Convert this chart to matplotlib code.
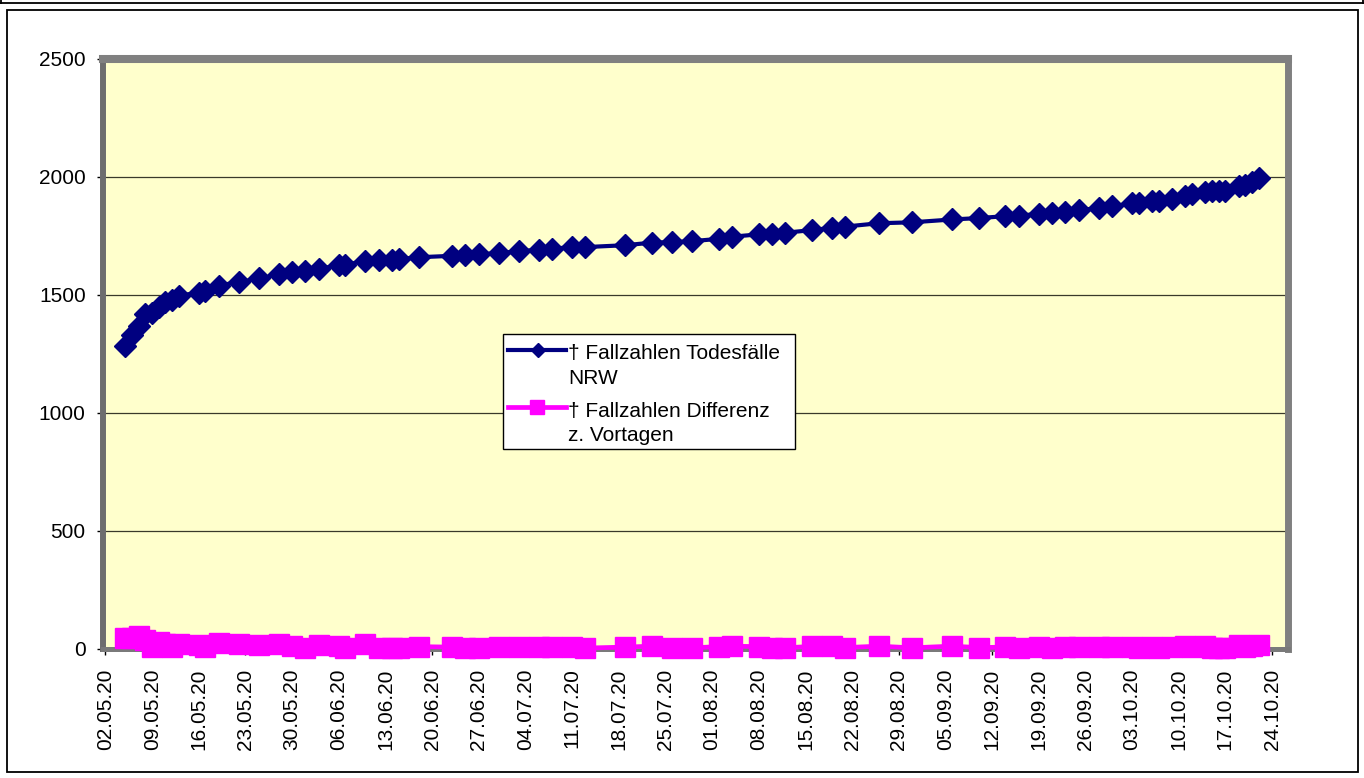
import matplotlib
matplotlib.use("Agg")
import matplotlib.pyplot as plt
from matplotlib.lines import Line2D
from matplotlib.patches import Rectangle
import pandas as pd

plt.rcParams['font.family'] = ['Liberation Sans', 'DejaVu Sans']

# ---- data -------------------------------------------------------------
dates = ["05.05.20", "06.05.20", "07.05.20", "08.05.20", "09.05.20", "10.05.20",
         "11.05.20", "12.05.20", "13.05.20", "16.05.20", "17.05.20", "19.05.20",
         "22.05.20", "25.05.20", "28.05.20", "30.05.20", "01.06.20", "03.06.20",
         "06.06.20", "07.06.20", "10.06.20", "12.06.20", "14.06.20", "15.06.20",
         "18.06.20", "23.06.20", "25.06.20", "27.06.20", "30.06.20", "03.07.20",
         "06.07.20", "08.07.20", "11.07.20", "13.07.20", "19.07.20", "23.07.20",
         "26.07.20", "29.07.20", "02.08.20", "04.08.20", "08.08.20", "10.08.20",
         "12.08.20", "16.08.20", "19.08.20", "21.08.20", "26.08.20", "31.08.20",
         "06.09.20", "10.09.20", "14.09.20", "16.09.20", "19.09.20", "21.09.20",
         "23.09.20", "25.09.20", "28.09.20", "30.09.20", "03.10.20", "04.10.20",
         "06.10.20", "07.10.20", "09.10.20", "11.10.20", "12.10.20", "14.10.20",
         "15.10.20", "16.10.20", "17.10.20", "19.10.20", "20.10.20", "21.10.20",
         "22.10.20"]

deaths_nrw = [1282, 1330, 1370, 1420, 1425, 1450, 1470, 1478, 1497, 1510, 1518, 1540,
              1555, 1570, 1588, 1598, 1600, 1612, 1625, 1628, 1645, 1648, 1650, 1652,
              1660, 1666, 1668, 1672, 1678, 1685, 1692, 1696, 1703, 1703, 1711, 1722,
              1724, 1728, 1738, 1747, 1757, 1760, 1764, 1775, 1785, 1790, 1804, 1808,
              1820, 1826, 1834, 1836, 1844, 1846, 1852, 1860, 1868, 1876, 1888, 1890,
              1897, 1900, 1906, 1918, 1926, 1938, 1940, 1941, 1942, 1960, 1968, 1980,
              1995]

diff_prev = [45, 48, 55, 38, 8, 30, 20, 10, 20, 18, 10, 25,
             20, 18, 20, 12, 5, 15, 12, 5, 20, 5, 5, 5,
             10, 8, 5, 6, 8, 8, 10, 8, 10, 4, 8, 12,
             5, 5, 10, 12, 10, 6, 5, 11, 12, 6, 12, 5,
             12, 6, 8, 5, 8, 5, 8, 10, 8, 8, 10, 5,
             8, 5, 8, 12, 8, 12, 5, 4, 4, 15, 10, 12,
             15]

tick_labels = ["02.05.20", "09.05.20", "16.05.20", "23.05.20", "30.05.20", "06.06.20",
               "13.06.20", "20.06.20", "27.06.20", "04.07.20", "11.07.20", "18.07.20",
               "25.07.20", "01.08.20", "08.08.20", "15.08.20", "22.08.20", "29.08.20",
               "05.09.20", "12.09.20", "19.09.20", "26.09.20", "03.10.20", "10.10.20",
               "17.10.20", "24.10.20"]

y_ticks = [0, 500, 1000, 1500, 2000, 2500]

label_deaths = "† Fallzahlen Todesfälle\nNRW"
label_diff = "† Fallzahlen Differenz\nz. Vortagen"

# ---- figure -----------------------------------------------------------
W, H = 1364, 778
fig = plt.figure(figsize=(W / 100, H / 100), dpi=100)
fig.patch.set_facecolor('white')


def fx(x):
    return x / W


def fy(y):
    return 1 - y / H


ax = fig.add_axes([fx(103), fy(649), (1288 - 103) / W, (649 - 59) / H])
ax.set_facecolor('#FFFFCC')

start = pd.Timestamp('2020-05-02')
day = (pd.to_datetime(dates, format='%d.%m.%y') - start).days
tick_pos = (pd.to_datetime(tick_labels, format='%d.%m.%y') - start).days

navy = '#000080'
magenta = '#FF00FF'

ax.plot(day, diff_prev, color=magenta, lw=3.4, marker='s', ms=14, mfc=magenta,
        mec=magenta, mew=1, clip_on=False, zorder=3)
ax.plot(day, deaths_nrw, color=navy, lw=3.0, marker='D', ms=11.5, mfc=navy,
        mec=navy, mew=1, clip_on=False, zorder=4)

ax.set_xlim(-0.375, 177.4)
ax.set_ylim(0, 2500)
ax.set_yticks(y_ticks)
ax.set_yticklabels([str(v) for v in y_ticks])
ax.set_xticks(tick_pos)
ax.set_xticklabels(tick_labels, rotation=90)

ax.yaxis.grid(True, color='#3a3a2a', lw=0.9)
ax.xaxis.grid(False)
ax.set_axisbelow(True)

ax.spines['top'].set(color='#808080', linewidth=5.8)
ax.spines['right'].set(color='#808080', linewidth=5.0)
ax.spines['left'].set(color='#6e6e6e', linewidth=4.3)
ax.spines['bottom'].set(color='#7a7a7a', linewidth=3.6)

ax.tick_params(axis='y', direction='out', length=4.5, width=1, color='black',
               pad=8, labelsize=15)
ax.tick_params(axis='x', direction='out', length=4, width=1, color='black',
               pad=10, labelsize=15)

# ---- legend (drawn manually to mimic the Excel layout) ----------------
fig.add_artist(Rectangle((fx(503), fy(449)), (795 - 503) / W, (449 - 334) / H,
                         transform=fig.transFigure, facecolor='white',
                         edgecolor='black', lw=1, zorder=10))
fig.add_artist(Line2D([fx(508), fx(566)], [fy(350), fy(350)], transform=fig.transFigure,
                      color=navy, lw=3.0, zorder=11))
fig.add_artist(Line2D([fx(538)], [fy(350)], transform=fig.transFigure, color=navy,
                      marker='D', ms=7.5, mfc=navy, mec=navy, zorder=12))
fig.add_artist(Line2D([fx(508), fx(566)], [fy(407), fy(407)], transform=fig.transFigure,
                      color=magenta, lw=3.4, zorder=11))
fig.add_artist(Line2D([fx(537)], [fy(407)], transform=fig.transFigure, color=magenta,
                      marker='s', ms=9.5, mfc=magenta, mec=magenta, zorder=12))

l1, l2 = label_deaths.split('\n')
l3, l4 = label_diff.split('\n')
for txt, yb in [(l1, 359), (l2, 383.5), (l3, 416.7), (l4, 441)]:
    fig.text(fx(568), fy(yb), txt, fontsize=15, ha='left', va='baseline', zorder=13)

# ---- chart-area frames ------------------------------------------------
fig.add_artist(Rectangle((fx(6.5), fy(772)), (1357.5 - 6.5) / W, (772 - 10) / H,
                         transform=fig.transFigure, fill=False, edgecolor='black',
                         lw=1.3, zorder=1))
fig.add_artist(Line2D([0, 1], [fy(2.5), fy(2.5)], transform=fig.transFigure,
                      color='black', lw=1.3))
fig.add_artist(Line2D([fx(0.7), fx(0.7)], [1, fy(2.5)], transform=fig.transFigure,
                      color='black', lw=1.3))
fig.add_artist(Line2D([fx(1363.3), fx(1363.3)], [1, fy(2.5)], transform=fig.transFigure,
                      color='black', lw=1.3))

fig.savefig('out.png', dpi=100)
